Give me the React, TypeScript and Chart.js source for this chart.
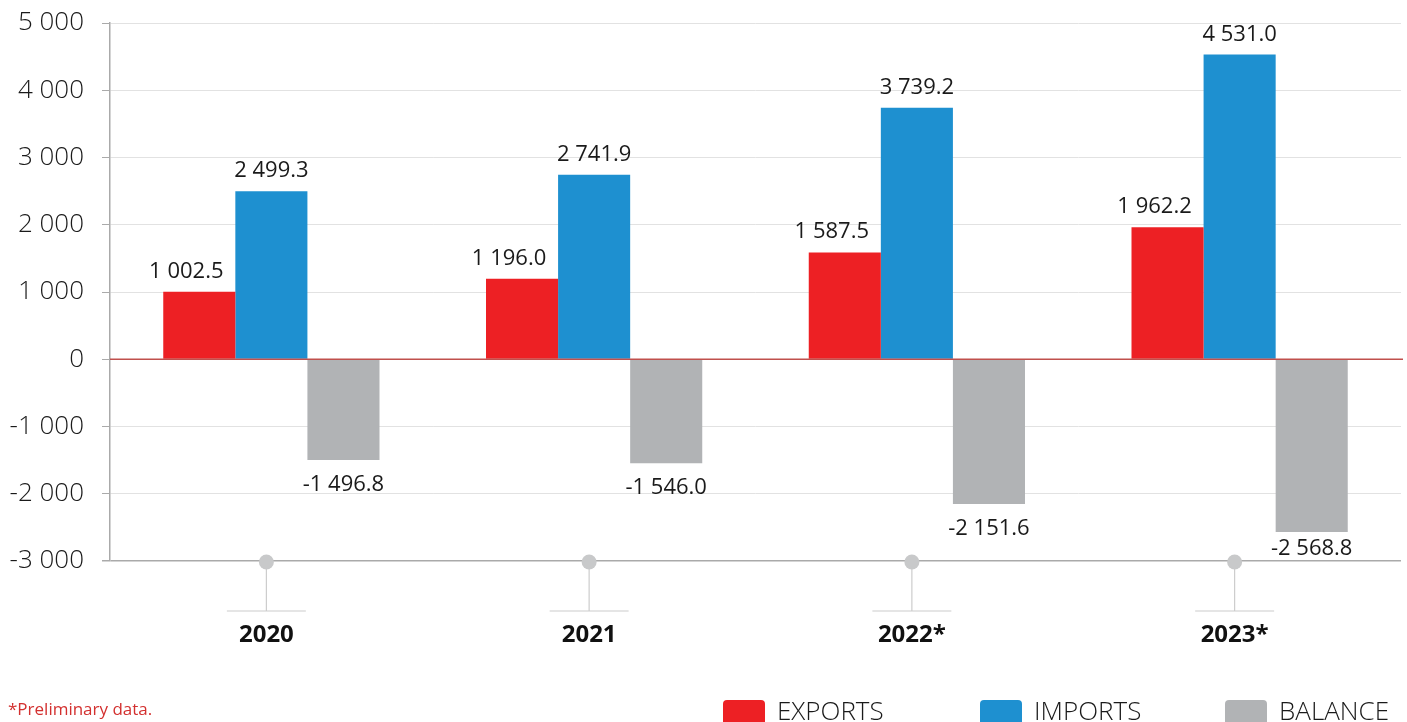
import React, { useEffect, useRef } from "react";
import { Chart, registerables } from "chart.js";

Chart.register(...registerables);

const categories = ["2020", "2021", "2022*", "2023*"];
const exportsValues = [1002.5, 1196.0, 1587.5, 1962.2];
const importsValues = [2499.3, 2741.9, 3739.2, 4531.0];
const balanceValues = [-1496.8, -1546.0, -2151.6, -2568.8];
const seriesNames = ["EXPORTS", "IMPORTS", "BALANCE"];
const seriesColors = ["#ed2024", "#1e90d0", "#b1b3b5"];
const yMin = -3000;
const yMax = 5000;
const yStep = 1000;
const footnote = "*Preliminary data.";

const FONT = "'Open Sans', 'Noto Sans', sans-serif";

function groupThousands(n: number): string {
  const s = String(n);
  let out = "";
  for (let i = 0; i < s.length; i++) {
    if (i > 0 && (s.length - i) % 3 === 0) out += " ";
    out += s[i];
  }
  return out;
}

function fmtInt(v: number): string {
  const sign = v < 0 ? "-" : "";
  return sign + groupThousands(Math.round(Math.abs(v)));
}

function fmtDec(v: number): string {
  const sign = v < 0 ? "-" : "";
  const a = Math.abs(v);
  const fixed = a.toFixed(1);
  const [ip, dp] = fixed.split(".");
  return sign + groupThousands(parseInt(ip, 10)) + "." + dp;
}

const overlayPlugin = {
  id: "overlay",
  afterDatasetsDraw(chart: any) {
    const ctx = chart.ctx;
    const ca = chart.chartArea;
    const y = chart.scales.y;
    const x = chart.scales.x;
    // zero line
    const y0 = y.getPixelForValue(0);
    ctx.save();
    ctx.strokeStyle = "#c0504d";
    ctx.lineWidth = 1.5;
    ctx.beginPath();
    ctx.moveTo(ca.left, y0);
    ctx.lineTo(ca.right + 2, y0);
    ctx.stroke();
    ctx.restore();

    // data labels
    ctx.save();
    ctx.font = `400 22px ${FONT}`;
    ctx.fillStyle = "#1a1a1a";
    ctx.textAlign = "center";
    ctx.textBaseline = "alphabetic";
    chart.data.datasets.forEach((ds: any, di: number) => {
      const meta = chart.getDatasetMeta(di);
      meta.data.forEach((bar: any, i: number) => {
        const v = ds.data[i];
        const dx = di === 0 ? -13 : 0;
        let ty;
        if (v >= 0) {
          ty = bar.y - 14;
        } else {
          ty = Math.min(bar.y + 31, ca.bottom - 6);
        }
        ctx.fillText(fmtDec(v), bar.x + dx, ty);
      });
    });
    ctx.restore();

    // category markers & labels
    ctx.save();
    categories.forEach((c, i) => {
      const cx = x.getPixelForValue(i) - 5;
      const by = ca.bottom;
      ctx.strokeStyle = "#cccccc";
      ctx.lineWidth = 1.2;
      ctx.beginPath();
      ctx.moveTo(cx, by);
      ctx.lineTo(cx, by + 50);
      ctx.moveTo(cx - 39.5, by + 50);
      ctx.lineTo(cx + 39.5, by + 50);
      ctx.stroke();
      ctx.fillStyle = "#c8c9ca";
      ctx.beginPath();
      ctx.arc(cx, by + 1, 7.5, 0, Math.PI * 2);
      ctx.fill();
      ctx.fillStyle = "#111111";
      ctx.font = `700 24px ${FONT}`;
      ctx.textAlign = "center";
      ctx.textBaseline = "middle";
      ctx.fillText(c, cx, by + 74);
    });
    ctx.restore();

    // footnote
    ctx.save();
    ctx.fillStyle = "#d3302f";
    ctx.font = `400 17px ${FONT}`;
    ctx.textAlign = "left";
    ctx.textBaseline = "alphabetic";
    ctx.fillText(footnote, 8, 715);
    ctx.restore();

    // legend
    ctx.save();
    const legendX = [723, 980, 1225];
    ctx.font = `300 26px ${FONT}`;
    ctx.textAlign = "left";
    ctx.textBaseline = "alphabetic";
    seriesNames.forEach((n, i) => {
      const lx = legendX[i];
      ctx.fillStyle = seriesColors[i];
      ctx.beginPath();
      (ctx as any).roundRect(lx, 700, 42, 30, 4);
      ctx.fill();
      ctx.fillStyle = "#1a1a1a";
      ctx.fillText(n, lx + 54, 720);
    });
    ctx.restore();
  },
};

export default function App() {
  const ref = useRef<HTMLCanvasElement>(null);
  useEffect(() => {
    if (!ref.current) return;
    const chart = new Chart(ref.current, {
      type: "bar",
      data: {
        labels: categories,
        datasets: [
          { label: seriesNames[0], data: exportsValues, backgroundColor: seriesColors[0] },
          { label: seriesNames[1], data: importsValues, backgroundColor: seriesColors[1] },
          { label: seriesNames[2], data: balanceValues, backgroundColor: seriesColors[2] },
        ],
      },
      options: {
        responsive: true,
        maintainAspectRatio: false,
        animation: false,
        layout: { padding: { top: 23, bottom: 161, left: 0, right: 6 } },
        datasets: { bar: { categoryPercentage: 0.67, barPercentage: 1.0 } },
        plugins: { legend: { display: false }, tooltip: { enabled: false } },
        scales: {
          x: { display: false },
          y: {
            min: yMin,
            max: yMax,
            afterFit: (scale: any) => {
              scale.width = 110;
              scale.paddingTop = 0;
              scale.paddingBottom = 0;
            },
            ticks: {
              stepSize: yStep,
              padding: 18,
              color: "#1a1a1a",
              font: { family: FONT, size: 26, weight: "300" as any },
              callback: (v: any) => fmtInt(Number(v)),
            },
            grid: {
              color: (c: any) =>
                c.tick && c.tick.value === yMin ? "#aaaaaa" : c.tick && c.tick.value === 0 ? "rgba(0,0,0,0)" : "#e2e2e2",
              tickColor: "#aaaaaa",
              tickLength: 8,
              lineWidth: (c: any) => (c.tick && c.tick.value === yMin ? 1.5 : 1),
            },
            border: { color: "#aaaaaa", width: 1.5 },
          },
        },
      },
      plugins: [overlayPlugin],
    });
    return () => chart.destroy();
  }, []);
  return (
    <div style={{ position: "fixed", left: 0, top: 0, width: 1407, height: 722, background: "#fff" }}>
      <canvas ref={ref} />
    </div>
  );
}
